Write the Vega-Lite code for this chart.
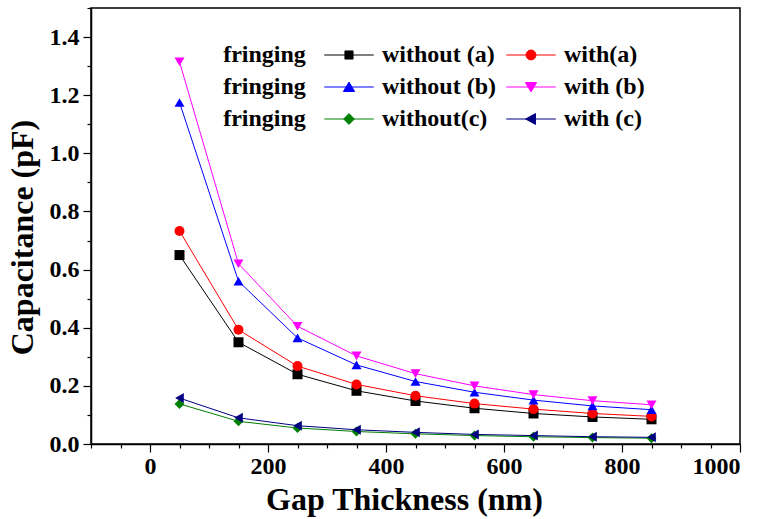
{
  "$schema": "https://vega.github.io/schema/vega-lite/v6.json",
  "width": 649,
  "height": 436,
  "autosize": {"type": "none"},
  "padding": {"left": 91, "top": 8, "right": 28, "bottom": 75},
  "background": "white",
  "config": {
    "view": {"stroke": "black", "strokeWidth": 1.5},
    "font": "Liberation Serif",
    "axis": {
      "grid": false,
      "domainColor": "black",
      "domainWidth": 1.5,
      "tickColor": "black",
      "tickWidth": 1.2,
      "tickSize": 8,
      "labelFont": "Liberation Serif",
      "labelFontSize": 24,
      "labelFontWeight": "bold",
      "labelColor": "black",
      "titleFont": "Liberation Serif",
      "titleFontSize": 32,
      "titleFontWeight": "bold",
      "titleColor": "black",
      "labelOverlap": false
    },
    "axisX": {
      "title": "Gap Thickness (nm)",
      "values": [-100, 0, 100, 200, 300, 400, 500, 600, 700, 800, 900, 1000],
      "labelExpr": "datum.value % 200 === 0 ? datum.label : ''",
      "format": "d",
      "labelPadding": 2,
      "titlePadding": 6,
      "titleX": 313,
      "tickSize": {"condition": {"test": "datum.value % 200 === 0", "value": 8}, "value": 4}
    },
    "axisY": {
      "title": "Capacitance (pF)",
      "values": [0, 0.1, 0.2, 0.3, 0.4, 0.5, 0.6, 0.7, 0.8, 0.9, 1.0, 1.1, 1.2, 1.3, 1.4],
      "format": ".1f",
      "labelExpr": "round(datum.value * 10) % 2 === 0 ? datum.label : ''",
      "labelPadding": 4,
      "titlePadding": 10,
      "titleY": 229,
      "tickSize": {"condition": {"test": "round(datum.value * 10) % 2 === 0", "value": 8}, "value": 4}
    }
  },
  "data": {
    "values": [
      {"series": "without (a)", "x": 50, "y": 0.65},
      {"series": "without (a)", "x": 150, "y": 0.35},
      {"series": "without (a)", "x": 250, "y": 0.24},
      {"series": "without (a)", "x": 350, "y": 0.183},
      {"series": "without (a)", "x": 450, "y": 0.148},
      {"series": "without (a)", "x": 550, "y": 0.123},
      {"series": "without (a)", "x": 650, "y": 0.105},
      {"series": "without (a)", "x": 750, "y": 0.093},
      {"series": "without (a)", "x": 850, "y": 0.085},
      {"series": "with(a)", "x": 50, "y": 0.733},
      {"series": "with(a)", "x": 150, "y": 0.393},
      {"series": "with(a)", "x": 250, "y": 0.268},
      {"series": "with(a)", "x": 350, "y": 0.205},
      {"series": "with(a)", "x": 450, "y": 0.166},
      {"series": "with(a)", "x": 550, "y": 0.139},
      {"series": "with(a)", "x": 650, "y": 0.12},
      {"series": "with(a)", "x": 750, "y": 0.105},
      {"series": "with(a)", "x": 850, "y": 0.095},
      {"series": "without (b)", "x": 50, "y": 1.175},
      {"series": "without (b)", "x": 150, "y": 0.56},
      {"series": "without (b)", "x": 250, "y": 0.365},
      {"series": "without (b)", "x": 350, "y": 0.272},
      {"series": "without (b)", "x": 450, "y": 0.215},
      {"series": "without (b)", "x": 550, "y": 0.178},
      {"series": "without (b)", "x": 650, "y": 0.151},
      {"series": "without (b)", "x": 750, "y": 0.131},
      {"series": "without (b)", "x": 850, "y": 0.118},
      {"series": "with (b)", "x": 50, "y": 1.315},
      {"series": "with (b)", "x": 150, "y": 0.62},
      {"series": "with (b)", "x": 250, "y": 0.405},
      {"series": "with (b)", "x": 350, "y": 0.303},
      {"series": "with (b)", "x": 450, "y": 0.242},
      {"series": "with (b)", "x": 550, "y": 0.2},
      {"series": "with (b)", "x": 650, "y": 0.17},
      {"series": "with (b)", "x": 750, "y": 0.149},
      {"series": "with (b)", "x": 850, "y": 0.135},
      {"series": "without(c)", "x": 50, "y": 0.138},
      {"series": "without(c)", "x": 150, "y": 0.078},
      {"series": "without(c)", "x": 250, "y": 0.055},
      {"series": "without(c)", "x": 350, "y": 0.043},
      {"series": "without(c)", "x": 450, "y": 0.035},
      {"series": "without(c)", "x": 550, "y": 0.029},
      {"series": "without(c)", "x": 650, "y": 0.025},
      {"series": "without(c)", "x": 750, "y": 0.022},
      {"series": "without(c)", "x": 850, "y": 0.02},
      {"series": "with (c)", "x": 50, "y": 0.158},
      {"series": "with (c)", "x": 150, "y": 0.09},
      {"series": "with (c)", "x": 250, "y": 0.063},
      {"series": "with (c)", "x": 350, "y": 0.049},
      {"series": "with (c)", "x": 450, "y": 0.04},
      {"series": "with (c)", "x": 550, "y": 0.033},
      {"series": "with (c)", "x": 650, "y": 0.029},
      {"series": "with (c)", "x": 750, "y": 0.025},
      {"series": "with (c)", "x": 850, "y": 0.023}
    ]
  },
  "layer": [
    {
      "mark": {"type": "line", "strokeWidth": 1, "clip": true},
      "encoding": {
        "x": {"field": "x", "type": "quantitative", "title": "Gap Thickness (nm)", "scale": {"domain": [-100, 1000], "nice": false, "zero": false}},
        "y": {"field": "y", "type": "quantitative", "title": "Capacitance (pF)", "scale": {"domain": [0, 1.5], "nice": false}},
        "color": {
          "field": "series",
          "type": "nominal",
          "scale": {
            "domain": ["without (a)", "with(a)", "without (b)", "with (b)", "without(c)", "with (c)"],
            "range": ["#000000", "#ff0000", "#0000ff", "#ff00ff", "#008000", "#000080"]
          },
          "legend": null
        }
      }
    },
    {
      "mark": {"type": "point", "filled": true, "size": 100, "opacity": 1},
      "encoding": {
        "x": {"field": "x", "type": "quantitative", "title": "Gap Thickness (nm)"},
        "y": {"field": "y", "type": "quantitative", "title": "Capacitance (pF)"},
        "color": {
          "field": "series",
          "type": "nominal",
          "scale": {
            "domain": ["without (a)", "with(a)", "without (b)", "with (b)", "without(c)", "with (c)"],
            "range": ["#000000", "#ff0000", "#0000ff", "#ff00ff", "#008000", "#000080"]
          },
          "legend": null
        },
        "shape": {
          "field": "series",
          "type": "nominal",
          "scale": {
            "domain": ["without (a)", "with(a)", "without (b)", "with (b)", "without(c)", "with (c)"],
            "range": ["square", "circle", "triangle-up", "triangle-down", "diamond", "triangle-left"]
          },
          "legend": null
        }
      }
    },
    {
      "transform": [{"filter": "datum.x < 0"}],
      "mark": {"type": "point", "filled": true, "size": 81, "opacity": 1, "strokeWidth": 1},
      "encoding": {
        "x": {"field": "x", "type": "quantitative", "title": "Gap Thickness (nm)"},
        "y": {"field": "y", "type": "quantitative", "title": "Capacitance (pF)"},
        "fill": {
          "field": "series",
          "type": "nominal",
          "scale": {
            "domain": ["without (a)", "without (b)", "without(c)", "with(a)", "with (b)", "with (c)"],
            "range": ["#000000", "#0000ff", "#008000", "#ff0000", "#ff00ff", "#000080"]
          }
        },
        "stroke": {
          "field": "series",
          "type": "nominal",
          "scale": {
            "domain": ["without (a)", "without (b)", "without(c)", "with(a)", "with (b)", "with (c)"],
            "range": ["#000000", "#0000ff", "#008000", "#ff0000", "#ff00ff", "#000080"]
          }
        },
        "shape": {
          "field": "series",
          "type": "nominal",
          "scale": {
            "domain": ["without (a)", "without (b)", "without(c)", "with(a)", "with (b)", "with (c)"],
            "range": [
              "M-5.5,0H5.5M-0.9,-0.9H0.9V0.9H-0.9Z",
              "M-5.5,0H5.5M0,-1.1L1.25,1H-1.25Z",
              "M-5.5,0H5.5M0,-1.2L1.2,0L0,1.2L-1.2,0Z",
              "M-5.5,0H5.5M-1.1,0A1.1,1.1,0,1,1,1.1,0A1.1,1.1,0,1,1,-1.1,0Z",
              "M-5.5,0H5.5M-1.25,-1H1.25L0,1.1Z",
              "M-5.5,0H5.5M-1.2,0L1,-1.2V1.2Z"
            ]
          },
          "legend": {
            "orient": "none",
            "legendX": 226,
            "legendY": 35,
            "columns": 2,
            "columnPadding": 2,
            "rowPadding": 8,
            "title": null,
            "padding": 0,
            "labelFont": "Liberation Serif",
            "labelFontSize": 24,
            "labelFontWeight": "bold",
            "labelColor": "black",
            "labelLimit": 400,
            "symbolOffset": 20,
            "labelOffset": 21,
            "symbolSize": 81,
            "symbolStrokeWidth": 1
          }
        }
      }
    },
    {
      "data": {"values": [{}]},
      "mark": {
        "type": "text",
        "text": ["fringing", "fringing", "fringing"],
        "lineHeight": 32,
        "align": "left",
        "baseline": "alphabetic",
        "font": "Liberation Serif",
        "fontSize": 24,
        "fontWeight": "bold",
        "fill": "black"
      },
      "encoding": {
        "x": {"datum": 124, "type": "quantitative", "title": "Gap Thickness (nm)"},
        "y": {"datum": 1.314, "type": "quantitative", "title": "Capacitance (pF)"}
      }
    }
  ],
  "resolve": {
    "scale": {"color": "independent", "shape": "independent", "fill": "independent", "stroke": "independent"}
  }
}
